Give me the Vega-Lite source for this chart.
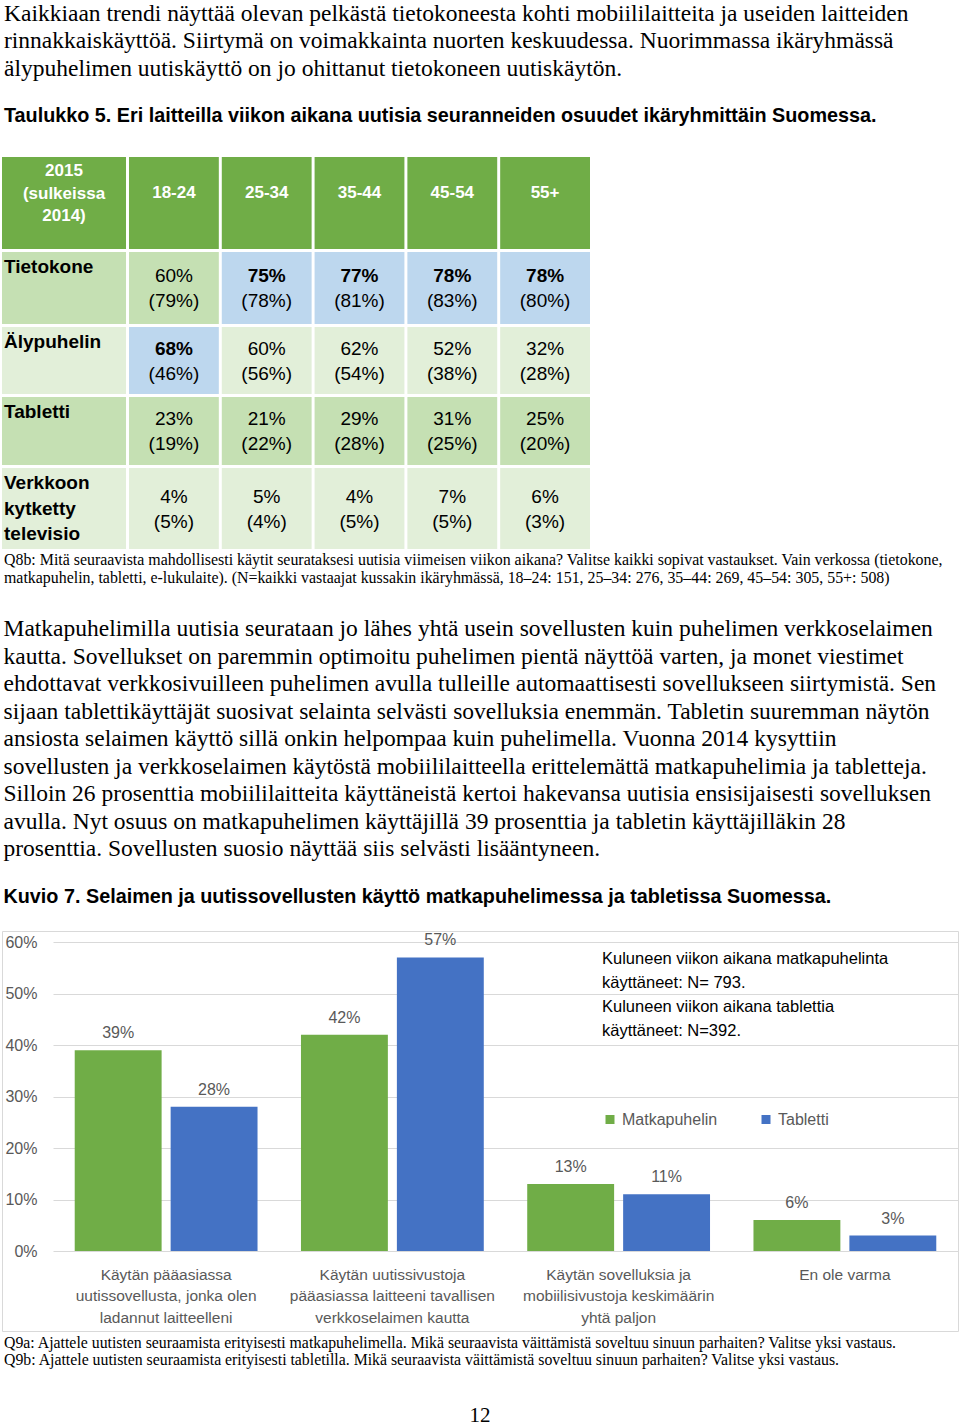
{
  "$schema": "https://vega.github.io/schema/vega-lite/v6.json",
  "background": "white",
  "padding": {"left": 1, "top": 1, "right": 0, "bottom": 0},
  "title": {"text": "12", "orient": "bottom", "anchor": "middle", "font": "Liberation Serif", "fontSize": 21, "fontWeight": "normal", "color": "#000", "offset": 37, "dx": 0},
  "resolve": {"scale": {"color": "independent"}, "legend": {"color": "independent"}},
  "datasets": {
    "table": [
      {"device": "Tietokone", "age": "18-24", "v2015": 0.60, "v2014": 0.79},
      {"device": "Tietokone", "age": "25-34", "v2015": 0.75, "v2014": 0.78},
      {"device": "Tietokone", "age": "35-44", "v2015": 0.77, "v2014": 0.81},
      {"device": "Tietokone", "age": "45-54", "v2015": 0.78, "v2014": 0.83},
      {"device": "Tietokone", "age": "55+", "v2015": 0.78, "v2014": 0.80},
      {"device": "Älypuhelin", "age": "18-24", "v2015": 0.68, "v2014": 0.46},
      {"device": "Älypuhelin", "age": "25-34", "v2015": 0.60, "v2014": 0.56},
      {"device": "Älypuhelin", "age": "35-44", "v2015": 0.62, "v2014": 0.54},
      {"device": "Älypuhelin", "age": "45-54", "v2015": 0.52, "v2014": 0.38},
      {"device": "Älypuhelin", "age": "55+", "v2015": 0.32, "v2014": 0.28},
      {"device": "Tabletti", "age": "18-24", "v2015": 0.23, "v2014": 0.19},
      {"device": "Tabletti", "age": "25-34", "v2015": 0.21, "v2014": 0.22},
      {"device": "Tabletti", "age": "35-44", "v2015": 0.29, "v2014": 0.28},
      {"device": "Tabletti", "age": "45-54", "v2015": 0.31, "v2014": 0.25},
      {"device": "Tabletti", "age": "55+", "v2015": 0.25, "v2014": 0.20},
      {"device": "Verkkoon kytketty televisio", "age": "18-24", "v2015": 0.04, "v2014": 0.05},
      {"device": "Verkkoon kytketty televisio", "age": "25-34", "v2015": 0.05, "v2014": 0.04},
      {"device": "Verkkoon kytketty televisio", "age": "35-44", "v2015": 0.04, "v2014": 0.05},
      {"device": "Verkkoon kytketty televisio", "age": "45-54", "v2015": 0.07, "v2014": 0.05},
      {"device": "Verkkoon kytketty televisio", "age": "55+", "v2015": 0.06, "v2014": 0.03}
    ]
  },
  "spacing": 31,
  "vconcat": [
    {
      "title": {
        "text": [
          "Kaikkiaan trendi näyttää olevan pelkästä tietokoneesta kohti mobiililaitteita ja useiden laitteiden",
          "rinnakkaiskäyttöä. Siirtymä on voimakkainta nuorten keskuudessa. Nuorimmassa ikäryhmässä",
          "älypuhelimen uutiskäyttö on jo ohittanut tietokoneen uutiskäytön."
        ],
        "subtitle": "Taulukko 5. Eri laitteilla viikon aikana uutisia seuranneiden osuudet ikäryhmittäin Suomessa.",
        "subtitlePadding": 26,
        "offset": 31
      },
      "spacing": 3,
      "vconcat": [
        {
          "spacing": 3,
          "hconcat": [
            {
              "width": 124, "height": 92,
              "data": {"values": [{"label": "2015 (sulkeissa 2014)"}]},
              "layer": [
                {"mark": {"type": "rect", "color": "#70ad47"}},
                {"mark": {"type": "text", "color": "white", "fontWeight": "bold", "fontSize": 17, "lineBreak": " ", "lineHeight": 22.5, "baseline": "middle", "dy": -32}, "encoding": {"text": {"field": "label"}}}
              ]
            },
            {
              "width": 461, "height": 92,
              "data": {"name": "table"},
              "transform": [{"filter": "datum.device == 'Tietokone'"}],
              "encoding": {"x": {"field": "age", "type": "nominal", "sort": null, "axis": null, "scale": {"type": "band", "paddingInner": 0.032, "paddingOuter": 0}}},
              "layer": [
                {"mark": {"type": "rect", "color": "#70ad47"}},
                {"mark": {"type": "text", "color": "white", "fontWeight": "bold", "fontSize": 17, "baseline": "middle", "dy": -10}, "encoding": {"text": {"field": "age"}}}
              ]
            }
          ]
        },
        {
          "spacing": 3,
          "hconcat": [
            {
              "width": 124, "height": 72,
              "data": {"name": "table"},
              "transform": [{"filter": "datum.device == 'Tietokone' && datum.age == '18-24'"}],
              "layer": [
                {"mark": {"type": "rect", "color": "#c5e0b3"}},
                {"mark": {"type": "text", "align": "left", "baseline": "top", "fontWeight": "bold", "fontSize": 19, "lineBreak": " ", "lineHeight": 25.5, "dx": 2, "dy": 6},
                 "encoding": {
                   "text": {"field": "device"},
                   "x": {"field": "device", "type": "nominal", "axis": null, "bandPosition": 0, "scale": {"type": "band", "paddingInner": 0, "paddingOuter": 0}},
                   "y": {"field": "device", "type": "nominal", "axis": null, "bandPosition": 0, "scale": {"type": "band", "paddingInner": 0, "paddingOuter": 0}}
                 }}
              ]
            },
            {
              "width": 461, "height": 72,
              "data": {"name": "table"},
              "transform": [
                {"joinaggregate": [{"op": "max", "field": "v2015", "as": "max2015"}], "groupby": ["age"]},
                {"filter": "datum.device == 'Tietokone'"},
                {"calculate": "'(' + format(datum.v2014, '.0%') + ')'", "as": "label2014"}
              ],
              "encoding": {"x": {"field": "age", "type": "nominal", "sort": null, "axis": null, "scale": {"type": "band", "paddingInner": 0.032, "paddingOuter": 0}}},
              "layer": [
                {"mark": "rect", "encoding": {"color": {"condition": {"test": "datum.v2015 == datum.max2015", "value": "#bdd7ee"}, "value": "#c5e0b3"}}},
                {"transform": [{"filter": "datum.v2015 == datum.max2015"}], "mark": {"type": "text", "fontWeight": "bold", "fontSize": 19, "baseline": "middle", "dy": -12}, "encoding": {"text": {"field": "v2015", "format": ".0%"}}},
                {"transform": [{"filter": "datum.v2015 < datum.max2015"}], "mark": {"type": "text", "fontSize": 19, "baseline": "middle", "dy": -12}, "encoding": {"text": {"field": "v2015", "format": ".0%"}}},
                {"mark": {"type": "text", "fontSize": 19, "baseline": "middle", "dy": 13}, "encoding": {"text": {"field": "label2014"}}}
              ]
            }
          ]
        },
        {
          "spacing": 3,
          "hconcat": [
            {
              "width": 124, "height": 67,
              "data": {"name": "table"},
              "transform": [{"filter": "datum.device == 'Älypuhelin' && datum.age == '18-24'"}],
              "layer": [
                {"mark": {"type": "rect", "color": "#e2efd9"}},
                {"mark": {"type": "text", "align": "left", "baseline": "top", "fontWeight": "bold", "fontSize": 19, "lineBreak": " ", "lineHeight": 25.5, "dx": 2, "dy": 6},
                 "encoding": {
                   "text": {"field": "device"},
                   "x": {"field": "device", "type": "nominal", "axis": null, "bandPosition": 0, "scale": {"type": "band", "paddingInner": 0, "paddingOuter": 0}},
                   "y": {"field": "device", "type": "nominal", "axis": null, "bandPosition": 0, "scale": {"type": "band", "paddingInner": 0, "paddingOuter": 0}}
                 }}
              ]
            },
            {
              "width": 461, "height": 67,
              "data": {"name": "table"},
              "transform": [
                {"joinaggregate": [{"op": "max", "field": "v2015", "as": "max2015"}], "groupby": ["age"]},
                {"filter": "datum.device == 'Älypuhelin'"},
                {"calculate": "'(' + format(datum.v2014, '.0%') + ')'", "as": "label2014"}
              ],
              "encoding": {"x": {"field": "age", "type": "nominal", "sort": null, "axis": null, "scale": {"type": "band", "paddingInner": 0.032, "paddingOuter": 0}}},
              "layer": [
                {"mark": "rect", "encoding": {"color": {"condition": {"test": "datum.v2015 == datum.max2015", "value": "#bdd7ee"}, "value": "#e2efd9"}}},
                {"transform": [{"filter": "datum.v2015 == datum.max2015"}], "mark": {"type": "text", "fontWeight": "bold", "fontSize": 19, "baseline": "middle", "dy": -12}, "encoding": {"text": {"field": "v2015", "format": ".0%"}}},
                {"transform": [{"filter": "datum.v2015 < datum.max2015"}], "mark": {"type": "text", "fontSize": 19, "baseline": "middle", "dy": -12}, "encoding": {"text": {"field": "v2015", "format": ".0%"}}},
                {"mark": {"type": "text", "fontSize": 19, "baseline": "middle", "dy": 13}, "encoding": {"text": {"field": "label2014"}}}
              ]
            }
          ]
        },
        {
          "spacing": 3,
          "hconcat": [
            {
              "width": 124, "height": 68,
              "data": {"name": "table"},
              "transform": [{"filter": "datum.device == 'Tabletti' && datum.age == '18-24'"}],
              "layer": [
                {"mark": {"type": "rect", "color": "#c5e0b3"}},
                {"mark": {"type": "text", "align": "left", "baseline": "top", "fontWeight": "bold", "fontSize": 19, "lineBreak": " ", "lineHeight": 25.5, "dx": 2, "dy": 6},
                 "encoding": {
                   "text": {"field": "device"},
                   "x": {"field": "device", "type": "nominal", "axis": null, "bandPosition": 0, "scale": {"type": "band", "paddingInner": 0, "paddingOuter": 0}},
                   "y": {"field": "device", "type": "nominal", "axis": null, "bandPosition": 0, "scale": {"type": "band", "paddingInner": 0, "paddingOuter": 0}}
                 }}
              ]
            },
            {
              "width": 461, "height": 68,
              "data": {"name": "table"},
              "transform": [
                {"joinaggregate": [{"op": "max", "field": "v2015", "as": "max2015"}], "groupby": ["age"]},
                {"filter": "datum.device == 'Tabletti'"},
                {"calculate": "'(' + format(datum.v2014, '.0%') + ')'", "as": "label2014"}
              ],
              "encoding": {"x": {"field": "age", "type": "nominal", "sort": null, "axis": null, "scale": {"type": "band", "paddingInner": 0.032, "paddingOuter": 0}}},
              "layer": [
                {"mark": "rect", "encoding": {"color": {"condition": {"test": "datum.v2015 == datum.max2015", "value": "#bdd7ee"}, "value": "#c5e0b3"}}},
                {"transform": [{"filter": "datum.v2015 == datum.max2015"}], "mark": {"type": "text", "fontWeight": "bold", "fontSize": 19, "baseline": "middle", "dy": -12}, "encoding": {"text": {"field": "v2015", "format": ".0%"}}},
                {"transform": [{"filter": "datum.v2015 < datum.max2015"}], "mark": {"type": "text", "fontSize": 19, "baseline": "middle", "dy": -12}, "encoding": {"text": {"field": "v2015", "format": ".0%"}}},
                {"mark": {"type": "text", "fontSize": 19, "baseline": "middle", "dy": 13}, "encoding": {"text": {"field": "label2014"}}}
              ]
            }
          ]
        },
        {
          "spacing": 3,
          "title": {
            "text": [
              "Q8b: Mitä seuraavista mahdollisesti käytit seurataksesi uutisia viimeisen viikon aikana? Valitse kaikki sopivat vastaukset. Vain verkossa (tietokone,",
              "matkapuhelin, tabletti, e-lukulaite). (N=kaikki vastaajat kussakin ikäryhmässä, 18–24: 151, 25–34: 276, 35–44: 269, 45–54: 305, 55+: 508)"
            ],
            "orient": "bottom", "anchor": "start", "font": "Liberation Serif", "fontSize": 15.9, "fontWeight": "normal", "lineHeight": 18, "offset": 3
          },
          "hconcat": [
            {
              "width": 124, "height": 81,
              "data": {"name": "table"},
              "transform": [{"filter": "datum.device == 'Verkkoon kytketty televisio' && datum.age == '18-24'"}],
              "layer": [
                {"mark": {"type": "rect", "color": "#e2efd9"}},
                {"mark": {"type": "text", "align": "left", "baseline": "top", "fontWeight": "bold", "fontSize": 19, "lineBreak": " ", "lineHeight": 25.5, "dx": 2, "dy": 6},
                 "encoding": {
                   "text": {"field": "device"},
                   "x": {"field": "device", "type": "nominal", "axis": null, "bandPosition": 0, "scale": {"type": "band", "paddingInner": 0, "paddingOuter": 0}},
                   "y": {"field": "device", "type": "nominal", "axis": null, "bandPosition": 0, "scale": {"type": "band", "paddingInner": 0, "paddingOuter": 0}}
                 }}
              ]
            },
            {
              "width": 461, "height": 81,
              "data": {"name": "table"},
              "transform": [
                {"joinaggregate": [{"op": "max", "field": "v2015", "as": "max2015"}], "groupby": ["age"]},
                {"filter": "datum.device == 'Verkkoon kytketty televisio'"},
                {"calculate": "'(' + format(datum.v2014, '.0%') + ')'", "as": "label2014"}
              ],
              "encoding": {"x": {"field": "age", "type": "nominal", "sort": null, "axis": null, "scale": {"type": "band", "paddingInner": 0.032, "paddingOuter": 0}}},
              "layer": [
                {"mark": "rect", "encoding": {"color": {"condition": {"test": "datum.v2015 == datum.max2015", "value": "#bdd7ee"}, "value": "#e2efd9"}}},
                {"transform": [{"filter": "datum.v2015 == datum.max2015"}], "mark": {"type": "text", "fontWeight": "bold", "fontSize": 19, "baseline": "middle", "dy": -12}, "encoding": {"text": {"field": "v2015", "format": ".0%"}}},
                {"transform": [{"filter": "datum.v2015 < datum.max2015"}], "mark": {"type": "text", "fontSize": 19, "baseline": "middle", "dy": -12}, "encoding": {"text": {"field": "v2015", "format": ".0%"}}},
                {"mark": {"type": "text", "fontSize": 19, "baseline": "middle", "dy": 13}, "encoding": {"text": {"field": "label2014"}}}
              ]
            }
          ]
        }
      ]
    },
    {
      "title": {
        "text": [
          "Matkapuhelimilla uutisia seurataan jo lähes yhtä usein sovellusten kuin puhelimen verkkoselaimen",
          "kautta. Sovellukset on paremmin optimoitu puhelimen pientä näyttöä varten, ja monet viestimet",
          "ehdottavat verkkosivuilleen puhelimen avulla tulleille automaattisesti sovellukseen siirtymistä. Sen",
          "sijaan tablettikäyttäjät suosivat selainta selvästi sovelluksia enemmän. Tabletin suuremman näytön",
          "ansiosta selaimen käyttö sillä onkin helpompaa kuin puhelimella. Vuonna 2014 kysyttiin",
          "sovellusten ja verkkoselaimen käytöstä mobiililaitteella erittelemättä matkapuhelimia ja tabletteja.",
          "Silloin 26 prosenttia mobiililaitteita käyttäneistä kertoi hakevansa uutisia ensisijaisesti sovelluksen",
          "avulla. Nyt osuus on matkapuhelimen käyttäjillä 39 prosenttia ja tabletin käyttäjilläkin 28",
          "prosenttia. Sovellusten suosio näyttää siis selvästi lisääntyneen."
        ],
        "subtitle": "Kuvio 7. Selaimen ja uutissovellusten käyttö matkapuhelimessa ja tabletissa Suomessa.",
        "subtitlePadding": 26,
        "offset": 24
      },
      "resolve": {"scale": {"color": "independent"}, "legend": {"color": "independent"}},
      "vconcat": [
        {
          "width": 956, "height": 400,
          "view": {"stroke": "#d9d9d9", "strokeWidth": 1},
          "title": {
            "text": [
              "Q9a: Ajattele uutisten seuraamista erityisesti matkapuhelimella. Mikä seuraavista väittämistä soveltuu sinuun parhaiten? Valitse yksi vastaus.",
              "Q9b: Ajattele uutisten seuraamista erityisesti tabletilla. Mikä seuraavista väittämistä soveltuu sinuun parhaiten? Valitse yksi vastaus."
            ],
            "orient": "bottom", "anchor": "start", "font": "Liberation Serif", "fontSize": 15.8, "fontWeight": "normal", "lineHeight": 17, "offset": 5
          },
          "data": {"values": [
            {"statement": "Käytän pääasiassa uutissovellusta, jonka olen ladannut laitteelleni", "device": "Matkapuhelin", "share": 0.39},
            {"statement": "Käytän pääasiassa uutissovellusta, jonka olen ladannut laitteelleni", "device": "Tabletti", "share": 0.28},
            {"statement": "Käytän uutissivustoja pääasiassa laitteeni tavallisen verkkoselaimen kautta", "device": "Matkapuhelin", "share": 0.42},
            {"statement": "Käytän uutissivustoja pääasiassa laitteeni tavallisen verkkoselaimen kautta", "device": "Tabletti", "share": 0.57},
            {"statement": "Käytän sovelluksia ja mobiilisivustoja keskimäärin yhtä paljon", "device": "Matkapuhelin", "share": 0.13},
            {"statement": "Käytän sovelluksia ja mobiilisivustoja keskimäärin yhtä paljon", "device": "Tabletti", "share": 0.11},
            {"statement": "En ole varma", "device": "Matkapuhelin", "share": 0.06},
            {"statement": "En ole varma", "device": "Tabletti", "share": 0.03}
          ]},
          "encoding": {
            "x": {
              "field": "statement", "type": "nominal", "sort": null, "title": null,
              "scale": {"range": [51, 956], "paddingInner": 0.192, "paddingOuter": 0.096},
              "axis": {
                "orient": "bottom", "offset": -80, "domain": false, "ticks": false, "tickSize": 0, "grid": false,
                "labelAngle": 0, "labelPadding": 16, "labelFontSize": 15.5, "labelColor": "#595959",
                "labelLineHeight": 21.5, "labelLimit": 400, "labelBaseline": "top", "labelOverlap": false,
                "labelExpr": "indexof(datum.value, 'uutissovellusta') >= 0 ? ['Käytän pääasiassa', 'uutissovellusta, jonka olen', 'ladannut laitteelleni'] : indexof(datum.value, 'uutissivustoja') >= 0 ? ['Käytän uutissivustoja', 'pääasiassa laitteeni tavallisen', 'verkkoselaimen kautta'] : indexof(datum.value, 'mobiilisivustoja') >= 0 ? ['Käytän sovelluksia ja', 'mobiilisivustoja keskimäärin', 'yhtä paljon'] : datum.value"
              }
            },
            "xOffset": {"field": "device", "type": "nominal", "scale": {"paddingInner": 0.094, "paddingOuter": 0}},
            "y": {
              "field": "share", "type": "quantitative", "title": null,
              "scale": {"domain": [-0.1553, 0.6214], "nice": false, "zero": false},
              "axis": {
                "values": [0, 0.1, 0.2, 0.3, 0.4, 0.5, 0.6], "format": ".0%", "offset": -35,
                "domain": false, "ticks": false, "tickSize": 0, "labelPadding": 0,
                "labelFontSize": 16, "labelColor": "#595959", "grid": true, "gridColor": "#d9d9d9", "gridWidth": 1
              }
            }
          },
          "layer": [
            {
              "mark": {"type": "bar"},
              "encoding": {
                "color": {
                  "field": "device", "type": "nominal",
                  "scale": {"domain": ["Matkapuhelin", "Tabletti"], "range": ["#70ad47", "#4472c4"]},
                  "legend": {
                    "orient": "none", "legendX": 600, "legendY": 20, "direction": "horizontal",
                    "title": ["Kuluneen viikon aikana matkapuhelinta", "käyttäneet: N= 793.", "Kuluneen viikon aikana tablettia", "käyttäneet: N=392."],
                    "titleFontSize": 16.5, "titleFontWeight": "normal", "titleColor": "#000", "titleLineHeight": 24,
                    "titleLimit": 600, "titlePadding": 72, "symbolType": "square", "symbolSize": 81, "symbolStrokeWidth": 0,
                    "labelFontSize": 16, "labelColor": "#595959", "labelOffset": 4, "columnPadding": 40, "padding": 0
                  }
                }
              }
            },
            {
              "mark": {"type": "text", "baseline": "bottom", "dy": -9, "fontSize": 16, "color": "#595959"},
              "encoding": {"text": {"field": "share", "format": ".0%"}}
            }
          ]
        }
      ]
    }
  ],
  "config": {
    "view": {"stroke": null},
    "font": "Liberation Sans",
    "text": {"font": "Liberation Sans", "color": "#000"},
    "axis": {"labelFont": "Liberation Sans"},
    "legend": {"labelFont": "Liberation Sans", "titleFont": "Liberation Sans"},
    "title": {
      "anchor": "start", "font": "Liberation Serif", "fontSize": 23.5, "fontWeight": "normal", "color": "#000",
      "lineHeight": 27.5, "subtitleFont": "Liberation Sans", "subtitleFontSize": 19.8, "subtitleFontWeight": "bold",
      "subtitleColor": "#000", "subtitleLineHeight": 22, "dx": 2
    }
  }
}
